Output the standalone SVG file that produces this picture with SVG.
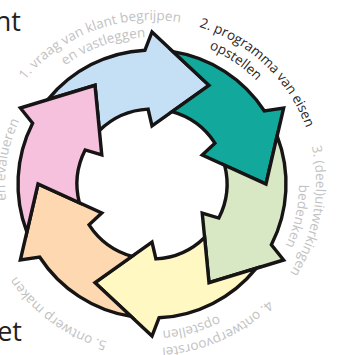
<svg xmlns="http://www.w3.org/2000/svg" width="339" height="355" viewBox="0 0 339 355">
<style>
.arrow{stroke:#161414;stroke-width:3.4;stroke-linejoin:miter;stroke-miterlimit:10}
.lbl{font-family:"Open Sans","DejaVu Sans",sans-serif;font-size:13.5px;fill:#c2c2c2;text-anchor:middle}
.dark{fill:#2a2627}
.big{font-family:"Open Sans","DejaVu Sans",sans-serif;font-size:27px;fill:#231f20;text-anchor:end}
</style>
<defs>
<path id="p1a" d="M 18.65 88.53 A 164 164 0 0 1 190.56 24.60" fill="none"/>
<path id="p1b" d="M 56.73 72.05 A 147 147 0 0 1 156.10 37.06" fill="none"/>
<path id="p2a" d="M 189.87 24.43 A 164 164 0 0 1 309.13 137.01" fill="none"/>
<path id="p2b" d="M 200.22 45.13 A 147 147 0 0 1 263.22 87.88" fill="none"/>
<path id="p3a" d="M 308.67 135.50 A 164 164 0 0 1 283.32 282.24" fill="none"/>
<path id="p3b" d="M 298.73 175.03 A 147 147 0 0 1 281.19 254.14" fill="none"/>
<path id="p4a" d="M 276.24 291.05 A 164 164 0 0 1 149.85 347.99" fill="none"/>
<path id="p4b" d="M 226.17 310.92 A 147 147 0 0 1 152.77 331.00" fill="none"/>
<path id="p5a" d="M 118.32 344.51 A 164 164 0 0 1 10.19 266.37" fill="none"/>
<path id="p6b" d="M 7.46 210.79 A 147 147 0 0 1 24.06 111.61" fill="none"/>
</defs>
<rect width="339" height="355" fill="#ffffff"/>
<g id="connectors"></g>
<g id="step1">
<path class="arrow" fill="#c5e0f4" d="M 47.86 99.67 A 134 134 0 0 1 144.99 50.18 L 152 32 L 209 85.27 L 152 126 L 148.07 109.10 A 75 75 0 0 0 99.39 130.54 L 95 85.27 Z"/>
<text class="lbl"><textPath href="#p1a" startOffset="50%">1. vraag van klant begrijpen</textPath></text>
<text class="lbl"><textPath href="#p1b" startOffset="50%">en vastleggen</textPath></text>
</g>
<g id="step2">
<path class="arrow" fill="#12a89b" d="M 172.96 51.65 A 134 134 0 0 1 264.38 111.02 L 283.64 108 L 266 184 L 202.23 155 L 214.90 143.15 A 75 75 0 0 0 171.99 111.71 L 209 85.27 Z"/>
<text class="lbl dark"><textPath href="#p2a" startOffset="50%">2. programma van eisen</textPath></text>
<text class="lbl dark"><textPath href="#p2b" startOffset="50%">opstellen</textPath></text>
</g>
<g id="step3">
<path class="arrow" fill="#d9e8c4" d="M 277.10 135.98 A 134 134 0 0 1 271.40 244.83 L 283.64 260 L 209 282.73 L 202.23 213 L 218.83 218.05 A 75 75 0 0 0 224.60 165.17 L 266 184 Z"/>
<text class="lbl"><textPath href="#p3a" startOffset="50%">3. (deel)uitwerkingen</textPath></text>
<text class="lbl"><textPath href="#p3b" startOffset="50%">bedenken</textPath></text>
</g>
<g id="step4">
<path class="arrow" fill="#fff8c2" d="M 256.14 268.33 A 134 134 0 0 1 159.01 317.82 L 152 336 L 95 282.73 L 152 242 L 155.93 258.90 A 75 75 0 0 0 204.61 237.46 L 209 282.73 Z"/>
<text class="lbl"><textPath href="#p4a" startOffset="50%">4. ontwerpvoorstel</textPath></text>
<text class="lbl"><textPath href="#p4b" startOffset="50%">opstellen</textPath></text>
</g>
<g id="step5">
<path class="arrow" fill="#fdd8b1" d="M 131.04 316.35 A 134 134 0 0 1 39.62 256.98 L 20.36 260 L 38 184 L 101.77 213 L 89.10 224.85 A 75 75 0 0 0 132.01 256.29 L 95 282.73 Z"/>
<text class="lbl"><textPath href="#p5a" startOffset="50%">5. ontwerp maken</textPath></text>
</g>
<g id="step6">
<path class="arrow" fill="#f6c1dc" d="M 26.90 232.02 A 134 134 0 0 1 32.60 123.17 L 20.36 108 L 95 85.27 L 101.77 155 L 85.17 149.95 A 75 75 0 0 0 79.40 202.83 L 38 184 Z"/>
<text class="lbl"><textPath href="#p6b" startOffset="50%">en evalueren</textPath></text>
</g>
<g id="fragments">
<text class="big" x="21" y="31">nt</text>
<text class="big" x="22" y="341">et</text>
</g>
</svg>
